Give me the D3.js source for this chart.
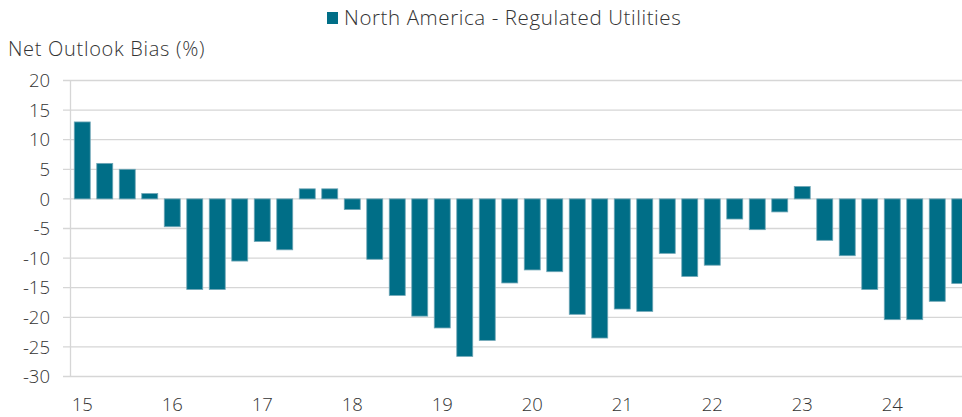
<!DOCTYPE html>
<html>
<head>
<meta charset="utf-8">
<script src="https://cdn.jsdelivr.net/npm/d3@7/dist/d3.min.js"></script>
<style>
  html, body { margin: 0; padding: 0; background: #fff; }
  svg { display: block; }
  text { font-family: "Open Sans", Roboto, sans-serif; font-weight: 300; fill: #333; }
</style>
</head>
<body>
<svg id="chart" width="962" height="417"></svg>
<script>
const years = ["15","16","17","18","19","20","21","22","23","24"];
const quarters = ["Q1","Q2","Q3","Q4"];
const categories = years.flatMap(y => quarters.map(q => y + q));
const values = [
  13.0, 6.0, 5.0, 0.9,
  -4.7, -15.3, -15.3, -10.5,
  -7.2, -8.6, 1.7, 1.7,
  -1.8, -10.2, -16.3, -19.8,
  -21.8, -26.6, -23.9, -14.2,
  -12.0, -12.3, -19.5, -23.5,
  -18.6, -19.0, -9.2, -13.1,
  -11.2, -3.4, -5.2, -2.2,
  2.1, -7.0, -9.6, -15.3,
  -20.4, -20.4, -17.3, -14.3
];
const yTicks = [20, 15, 10, 5, 0, -5, -10, -15, -20, -25, -30];
const seriesName = "North America - Regulated Utilities";
const yTitle = "Net Outlook Bias (%)";

const svg = d3.select("#chart");
const color = "#006e87";

const x = d3.scaleBand().domain(categories).range([71, 971]).paddingInner(0.29).paddingOuter(0.145);
const y = d3.scaleLinear().domain([-30, 20]).range([376.5, 80.5]);

// gridlines
svg.append("g").selectAll("line").data(yTicks).join("line")
  .attr("x1", 63).attr("x2", 962)
  .attr("y1", d => y(d)).attr("y2", d => y(d))
  .attr("stroke", "#d6d6d6").attr("stroke-width", 1.3);

// y axis line
svg.append("line")
  .attr("x1", 70.5).attr("x2", 70.5)
  .attr("y1", y(20)).attr("y2", y(-30))
  .attr("stroke", "#d6d6d6").attr("stroke-width", 1.3);

// y tick labels
svg.append("g").selectAll("text").data(yTicks).join("text")
  .attr("x", 50).attr("y", d => y(d))
  .attr("dy", "0.36em")
  .attr("text-anchor", "end")
  .attr("font-size", 18.5)
  .text(d => d);

// bars
svg.append("g").selectAll("rect").data(values).join("rect")
  .attr("x", (d, i) => x(categories[i]))
  .attr("width", x.bandwidth())
  .attr("y", d => y(Math.max(0, d)))
  .attr("height", d => Math.abs(y(d) - y(0)))
  .attr("fill", color)
  .attr("stroke", "#6fa6b6")
  .attr("stroke-width", 0.8);

// x labels
svg.append("g").selectAll("text").data(years).join("text")
  .attr("x", d => x(d + "Q1") + x.bandwidth() / 2)
  .attr("y", 411)
  .attr("text-anchor", "middle")
  .attr("font-size", 18.5)
  .text(d => d);

// y title
svg.append("text")
  .attr("x", 8).attr("y", 56)
  .attr("font-size", 20)
  .attr("letter-spacing", 0.7)
  .text(yTitle);

// legend
svg.append("rect")
  .attr("x", 327).attr("y", 12).attr("width", 11).attr("height", 12)
  .attr("fill", color);
svg.append("text")
  .attr("x", 344).attr("y", 25)
  .attr("font-size", 20.5)
  .attr("letter-spacing", 0.6)
  .text(seriesName);
</script>
</body>
</html>
